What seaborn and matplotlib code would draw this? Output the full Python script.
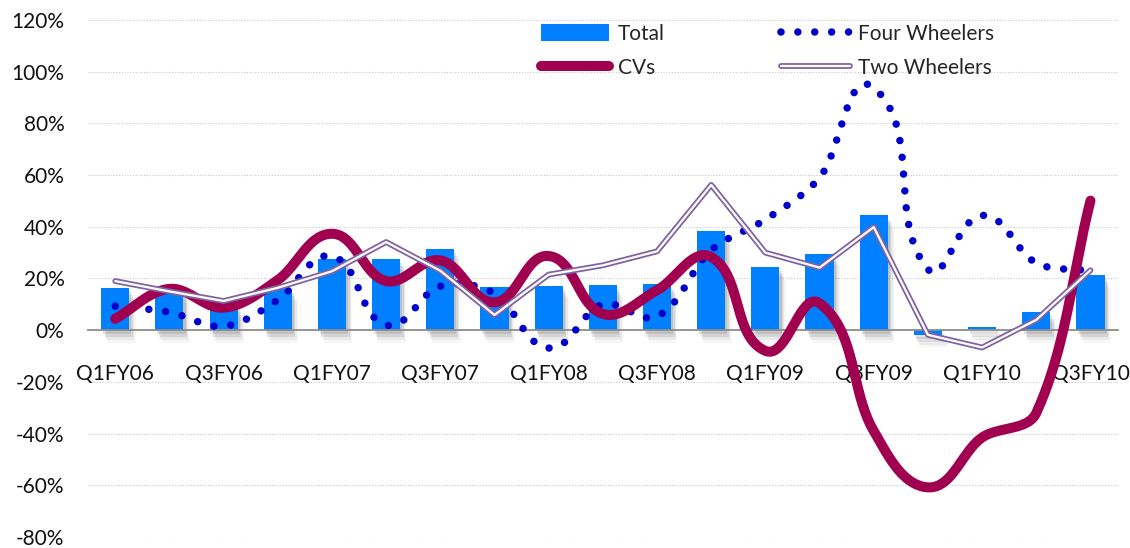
import numpy as np
import pandas as pd
import matplotlib
matplotlib.use("Agg")
import matplotlib.pyplot as plt
import matplotlib.patheffects as pe
from matplotlib.lines import Line2D
from matplotlib.patches import Patch
from matplotlib.ticker import FixedLocator, FuncFormatter
import seaborn as sns

# Quarterly growth (%)
quarters = ["Q1FY06", "Q2FY06", "Q3FY06", "Q4FY06",
            "Q1FY07", "Q2FY07", "Q3FY07", "Q4FY07",
            "Q1FY08", "Q2FY08", "Q3FY08", "Q4FY08",
            "Q1FY09", "Q2FY09", "Q3FY09", "Q4FY09",
            "Q1FY10", "Q2FY10", "Q3FY10"]
total = [16.4, 15.5, 9.8, 16.0, 27.4, 27.6, 31.3, 16.8, 17.0, 17.4, 17.7,
         38.3, 24.6, 29.5, 44.4, -1.8, 1.4, 7.2, 21.3]
four_wheelers = [9.3, 7.0, 1.5, 11.7, 28.6, 2.0, 17.0, 14.2, -6.9, 10.0, 5.3,
                 31.0, 42.8, 59.0, 93.8, 23.6, 44.4, 26.0, 23.0]
cvs = [4.4, 16.0, 8.7, 19.4, 37.3, 19.0, 27.0, 10.8, 28.7, 6.3, 15.5,
       28.3, -8.0, 10.4, -39.0, -60.8, -41.5, -32.0, 50.1]
two_wheelers = [19.0, 15.0, 11.3, 16.4, 22.8, 34.1, 23.0, 5.9, 21.5, 25.1,
                30.5, 56.2, 30.0, 24.2, 39.9, -1.8, -6.7, 4.0, 23.2]
y_ticks = [-80, -60, -40, -20, 0, 20, 40, 60, 80, 100, 120]

BAR_BLUE = "#0080FF"
DOT_BLUE = "#0000CC"
CV_RED = "#A0004F"
TW_PURPLE = "#8064A2"

# aspect of one y unit (%) relative to one category step on screen
Y_ASPECT = 2.6 / 54.2


def bezier_smooth(x, y, n=40, k=1.0 / 3.0):
    """Smoothed curve through the points: cubic Bezier segments whose
    control arms follow the neighbour chord and scale with segment length."""
    pts = np.column_stack([x, np.asarray(y, float) * Y_ASPECT]).astype(float)
    m = len(pts)
    t = np.linspace(0, 1, n)[:, None]

    def unit(v):
        d = np.hypot(*v)
        return v / d if d > 0 else v

    segs = []
    for i in range(m - 1):
        p0 = pts[max(i - 1, 0)]
        p1 = pts[i]
        p2 = pts[i + 1]
        p3 = pts[min(i + 2, m - 1)]
        L = np.hypot(*(p2 - p1))
        c1 = p1 + unit(p2 - p0) * L * k
        c2 = p2 - unit(p3 - p1) * L * k
        seg = ((1 - t) ** 3) * p1 + 3 * ((1 - t) ** 2) * t * c1 \
            + 3 * (1 - t) * t ** 2 * c2 + t ** 3 * p2
        segs.append(seg if i == 0 else seg[1:])
    out = np.vstack(segs)
    out[:, 1] /= Y_ASPECT
    return out


sns.set_style("white")
plt.rcParams["font.family"] = ["Lato", "DejaVu Sans"]

fig = plt.figure(figsize=(11.3, 5.48), dpi=100)
ax = fig.add_axes([0.078, 0.0201, 0.911, 0.9434])

df = pd.DataFrame({"quarter": quarters, "total": total})
xpos = np.arange(len(quarters))

# Bars with a soft drop shadow
sns.barplot(data=df, x="quarter", y="total", color=BAR_BLUE, saturation=1,
            width=0.52, ax=ax, zorder=2)
shadow = [
    pe.SimplePatchShadow(offset=(1.5, -3), shadow_rgbFace="#777777", alpha=0.22),
    pe.SimplePatchShadow(offset=(2.5, -5), shadow_rgbFace="#777777", alpha=0.18),
    pe.SimplePatchShadow(offset=(3.5, -7), shadow_rgbFace="#888888", alpha=0.12),
    pe.SimplePatchShadow(offset=(4.5, -9), shadow_rgbFace="#999999", alpha=0.07),
    pe.Normal(),
]
for p in ax.patches:
    p.set_path_effects(shadow)
    p.set_edgecolor("none")

DOT_LW = 5.4
DOTS = (0, (0.001, 2.25))

# Four Wheelers: smoothed dotted line
fw = bezier_smooth(xpos, four_wheelers)
ax.plot(fw[:, 0], fw[:, 1], color=DOT_BLUE, lw=DOT_LW,
        linestyle=DOTS, dash_capstyle="round", zorder=3)

# CVs: thick smoothed line
cv = bezier_smooth(xpos, cvs)
ax.plot(cv[:, 0], cv[:, 1], color=CV_RED, lw=7.2,
        solid_capstyle="round", solid_joinstyle="round", zorder=4)

# Two Wheelers: double (outlined) straight line
tw_df = pd.DataFrame({"x": xpos, "y": two_wheelers})
sns.lineplot(data=tw_df, x="x", y="y", color=TW_PURPLE, lw=4.2, ax=ax,
             zorder=5, sort=False)
sns.lineplot(data=tw_df, x="x", y="y", color="white", lw=1.6, ax=ax,
             zorder=6, sort=False)

# Axes
ax.set_xlim(-0.5, len(quarters) - 0.5)
ax.set_ylim(-80, 120)
ax.set_xlabel("")
ax.set_ylabel("")
ax.yaxis.set_major_locator(FixedLocator(y_ticks))
ax.yaxis.set_major_formatter(FuncFormatter(lambda v, _: f"{v:.0f}%"))
ax.tick_params(axis="y", length=0, pad=17, labelsize=15, labelcolor="#111111")

ax.xaxis.set_major_locator(FixedLocator(xpos[::2]))
ax.set_xticklabels(quarters[::2])
ax.xaxis.set_minor_locator(FixedLocator(np.arange(-0.5, len(quarters), 1.0)))
ax.tick_params(axis="x", which="major", length=0, pad=24, labelsize=15,
               labelcolor="#111111")
ax.tick_params(axis="x", which="minor", length=6, width=1.2, color="#8C8C8C",
               direction="out")

for s in ["top", "right", "left"]:
    ax.spines[s].set_visible(False)
ax.spines["bottom"].set_position(("data", 0))
ax.spines["bottom"].set_color("#8C8C8C")
ax.spines["bottom"].set_linewidth(1.3)
ax.spines["bottom"].set_zorder(2.5)

for v in y_ticks:
    if v != 0:
        ax.axhline(v, color="#C8C8C8", lw=0.8, linestyle=(0, (1, 1.5)), zorder=0)

# Legend
h_total = Patch(facecolor=BAR_BLUE, edgecolor="none")
h_four = Line2D([], [], color=DOT_BLUE, lw=DOT_LW, linestyle=DOTS,
                dash_capstyle="round")
h_cv = Line2D([], [], color=CV_RED, lw=7.2, solid_capstyle="round")
h_two = (Line2D([], [], color=TW_PURPLE, lw=4.2),
         Line2D([], [], color="white", lw=1.6))
fig.legend([h_total, h_cv, h_four, h_two],
           ["Total", "CVs", "Four Wheelers", "Two Wheelers"],
           ncol=2, loc="upper left", bbox_to_anchor=(526 / 1130, 1 - 9 / 548),
           frameon=False, fontsize=15, handlelength=3.3, handleheight=0.9,
           handletextpad=0.4, columnspacing=5.6, labelspacing=0.7,
           borderpad=0.2)

fig.savefig("out.png", dpi=100)
